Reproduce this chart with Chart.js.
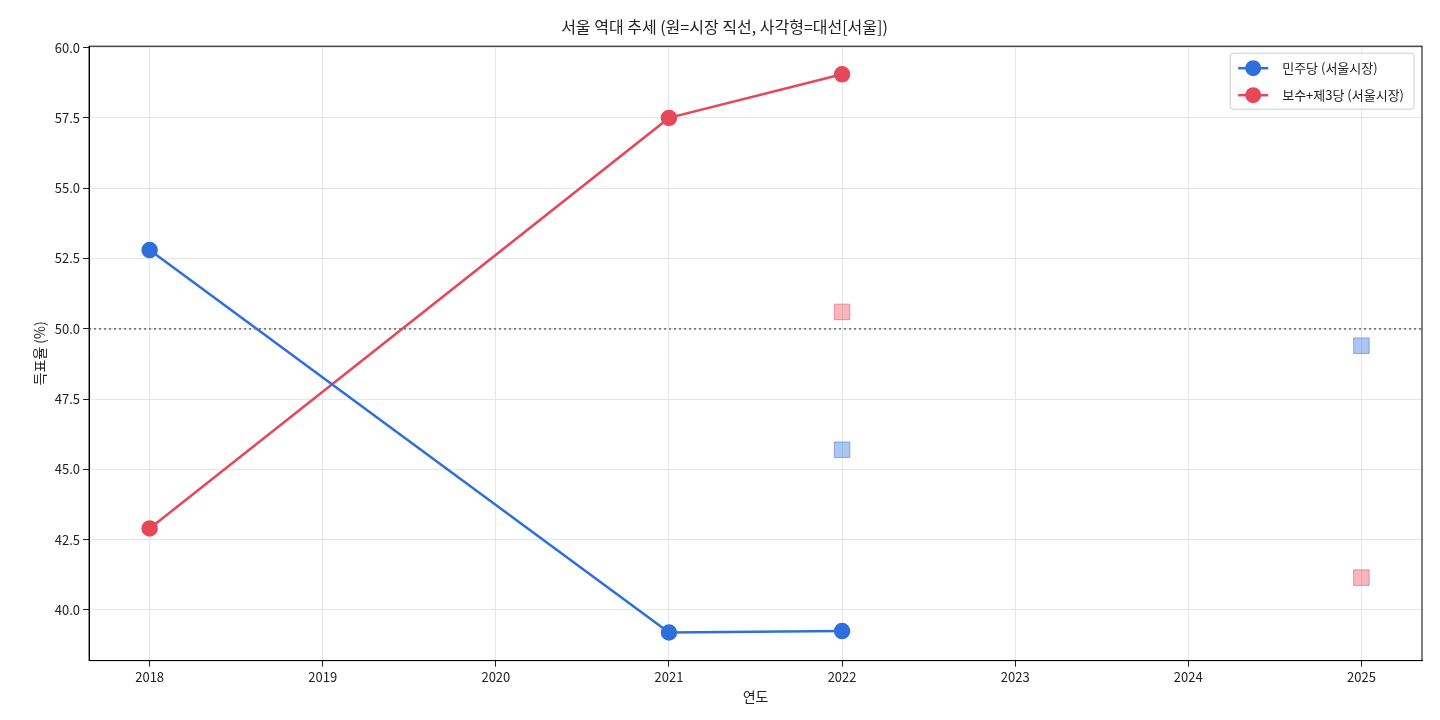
<!DOCTYPE html>
<html><head><meta charset="utf-8">
<script src="https://cdn.jsdelivr.net/npm/chart.js@4"></script>
<style>body{margin:0;background:#fff}#wrap{width:1440px;height:720px}</style>
</head><body><div id="wrap"><canvas id="c"></canvas></div>
<script>
const years = [2018, 2021, 2022];
const minjoo = [52.8, 39.2, 39.25];
const bosu = [42.9, 57.5, 59.05];
const daeYears = [2022, 2025];
const daeMinjoo = [45.7, 49.4];
const daeBosu = [50.6, 41.15];
const BLUE = '#2f6fdd', RED = '#e5485a';
const FONT = "'Noto Sans CJK KR', 'Noto Sans', sans-serif";

const pts = (xs, ys) => xs.map((x, i) => ({x: x, y: ys[i]}));

// legend drawn inside plot area, top right
const innerLegend = {
  id: 'innerLegend',
  afterDraw(chart) {
    const ctx = chart.ctx, a = chart.chartArea;
    const items = [['민주당 (서울시장)', BLUE], ['보수+제3당 (서울시장)', RED]];
    ctx.save();
    ctx.font = '13px ' + FONT;
    const w = Math.max(...items.map(i => ctx.measureText(i[0]).width)) + 62;
    const x0 = a.right - w - 8, y0 = a.top + 7;
    ctx.fillStyle = 'rgba(255,255,255,0.85)';
    ctx.strokeStyle = '#ccc';
    ctx.beginPath(); ctx.roundRect(x0, y0, w, 56, 3); ctx.fill(); ctx.stroke();
    items.forEach((it, i) => {
      const cy = y0 + 15 + i * 27;
      ctx.strokeStyle = it[1]; ctx.lineWidth = 2.5;
      ctx.beginPath(); ctx.moveTo(x0 + 8, cy); ctx.lineTo(x0 + 38, cy); ctx.stroke();
      ctx.fillStyle = it[1];
      ctx.beginPath(); ctx.arc(x0 + 23, cy, 8, 0, Math.PI * 2); ctx.fill();
      ctx.fillStyle = '#222'; ctx.textBaseline = 'middle';
      ctx.fillText(it[0], x0 + 52, cy);
    });
    ctx.restore();
  }
};

new Chart(document.getElementById('c'), {
  type: 'line',
  data: {
    datasets: [
      {data: [{x: 2017.65, y: 50}, {x: 2025.35, y: 50}], borderColor: '#777', borderWidth: 1.8,
       borderDash: [2, 3], pointRadius: 0},
      {data: pts(years, minjoo), borderColor: BLUE, backgroundColor: BLUE, borderWidth: 2.5, pointRadius: 7},
      {data: pts(years, bosu), borderColor: RED, backgroundColor: RED, borderWidth: 2.5, pointRadius: 7},
      {data: pts(daeYears, daeMinjoo), showLine: false, pointStyle: 'rect', pointRadius: 11,
       backgroundColor: 'rgba(47,111,221,0.4)', borderColor: 'rgba(47,111,221,0.5)', borderWidth: 1},
      {data: pts(daeYears, daeBosu), showLine: false, pointStyle: 'rect', pointRadius: 11,
       backgroundColor: 'rgba(229,72,90,0.4)', borderColor: 'rgba(229,72,90,0.5)', borderWidth: 1}
    ]
  },
  options: {
    responsive: true, maintainAspectRatio: false, animation: false,
    layout: {padding: {left: 27, right: 18, top: 11, bottom: 15}},
    plugins: {
      legend: {display: false}, tooltip: {enabled: false},
      title: {display: true, text: '서울 역대 추세 (원=시장 직선, 사각형=대선[서울])',
        color: '#222', font: {family: FONT, size: 16, weight: 'normal'}, padding: {top: 6, bottom: 10}}
    },
    scales: {
      x: {type: 'linear', min: 2017.65, max: 2025.35,
        afterBuildTicks: ax => { ax.ticks = [2018,2019,2020,2021,2022,2023,2024,2025].map(v => ({value: v})); },
        ticks: {color: '#222', font: {family: FONT, size: 13}, callback: v => String(v)},
        grid: {color: '#e6e6e6', drawTicks: true, tickLength: 6, tickColor: '#222'},
        border: {color: '#000', width: 1},
        title: {display: true, text: '연도', color: '#222', font: {family: FONT, size: 14}, padding: 0}},
      y: {min: 38.2, max: 60.05,
        afterBuildTicks: ax => { ax.ticks = [40,42.5,45,47.5,50,52.5,55,57.5,60].map(v => ({value: v})); },
        ticks: {color: '#222', font: {family: FONT, size: 13}, callback: v => v.toFixed(1)},
        grid: {color: '#e6e6e6', tickLength: 6, tickColor: '#222'},
        border: {color: '#000', width: 1},
        title: {display: true, text: '득표율 (%)', color: '#222', font: {family: FONT, size: 14}}}
    }
  },
  plugins: [innerLegend, {
    id: 'frame',
    afterDraw(chart) {
      const a = chart.chartArea, ctx = chart.ctx;
      ctx.save(); ctx.strokeStyle = '#000'; ctx.lineWidth = 1;
      ctx.strokeRect(a.left, a.top, a.right - a.left, a.bottom - a.top); ctx.restore();
    }
  }]
});
</script></body></html>
